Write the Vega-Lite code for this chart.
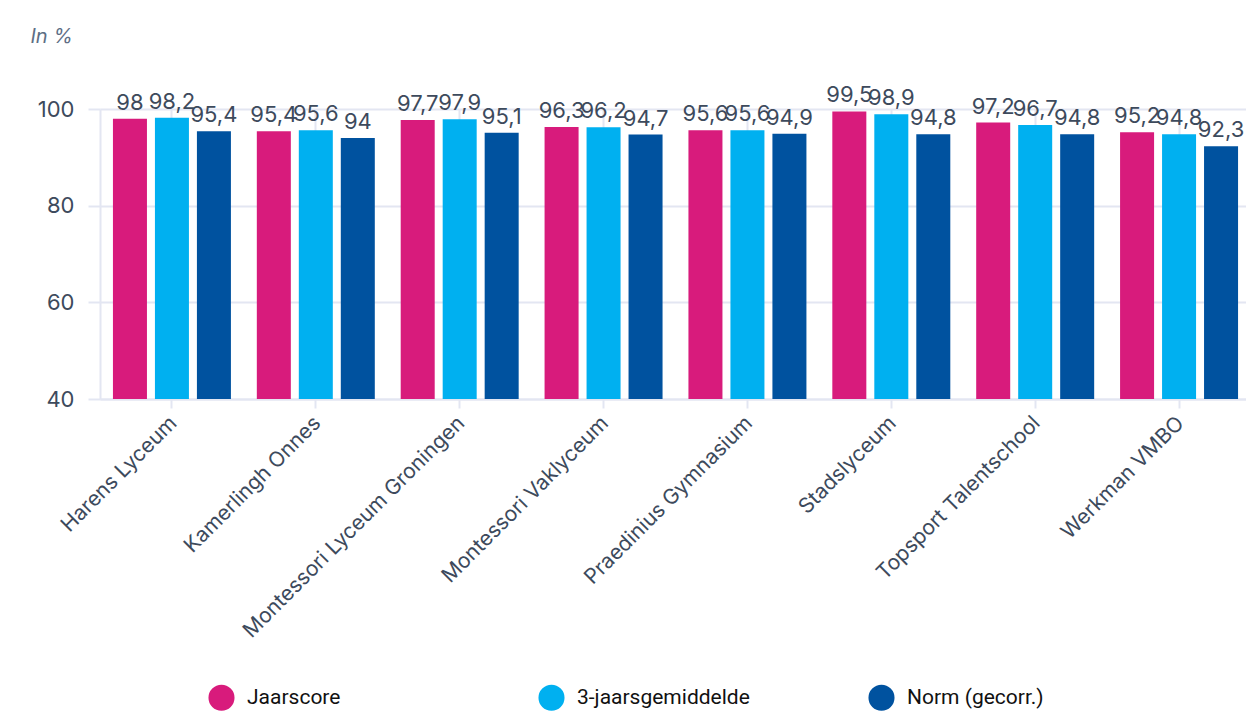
{
  "$schema": "https://vega.github.io/schema/vega-lite/v6.json",
  "width": 1151,
  "height": 290,
  "autosize": {"type": "none"},
  "padding": {"left": 100, "top": 109, "right": 0, "bottom": 316},
  "background": "white",
  "data": {
    "values": [
      {"school": "Harens Lyceum", "serie": "Jaarscore", "waarde": 98},
      {"school": "Harens Lyceum", "serie": "3-jaarsgemiddelde", "waarde": 98.2},
      {"school": "Harens Lyceum", "serie": "Norm (gecorr.)", "waarde": 95.4},
      {"school": "Kamerlingh Onnes", "serie": "Jaarscore", "waarde": 95.4},
      {"school": "Kamerlingh Onnes", "serie": "3-jaarsgemiddelde", "waarde": 95.6},
      {"school": "Kamerlingh Onnes", "serie": "Norm (gecorr.)", "waarde": 94},
      {"school": "Montessori Lyceum Groningen", "serie": "Jaarscore", "waarde": 97.7},
      {"school": "Montessori Lyceum Groningen", "serie": "3-jaarsgemiddelde", "waarde": 97.9},
      {"school": "Montessori Lyceum Groningen", "serie": "Norm (gecorr.)", "waarde": 95.1},
      {"school": "Montessori Vaklyceum", "serie": "Jaarscore", "waarde": 96.3},
      {"school": "Montessori Vaklyceum", "serie": "3-jaarsgemiddelde", "waarde": 96.2},
      {"school": "Montessori Vaklyceum", "serie": "Norm (gecorr.)", "waarde": 94.7},
      {"school": "Praedinius Gymnasium", "serie": "Jaarscore", "waarde": 95.6},
      {"school": "Praedinius Gymnasium", "serie": "3-jaarsgemiddelde", "waarde": 95.6},
      {"school": "Praedinius Gymnasium", "serie": "Norm (gecorr.)", "waarde": 94.9},
      {"school": "Stadslyceum", "serie": "Jaarscore", "waarde": 99.5},
      {"school": "Stadslyceum", "serie": "3-jaarsgemiddelde", "waarde": 98.9},
      {"school": "Stadslyceum", "serie": "Norm (gecorr.)", "waarde": 94.8},
      {"school": "Topsport Talentschool", "serie": "Jaarscore", "waarde": 97.2},
      {"school": "Topsport Talentschool", "serie": "3-jaarsgemiddelde", "waarde": 96.7},
      {"school": "Topsport Talentschool", "serie": "Norm (gecorr.)", "waarde": 94.8},
      {"school": "Werkman VMBO", "serie": "Jaarscore", "waarde": 95.2},
      {"school": "Werkman VMBO", "serie": "3-jaarsgemiddelde", "waarde": 94.8},
      {"school": "Werkman VMBO", "serie": "Norm (gecorr.)", "waarde": 92.3}
    ]
  },
  "encoding": {
    "x": {
      "field": "school", "type": "nominal", "sort": null,
      "scale": {"paddingInner": 0.18, "paddingOuter": 0.09},
      "axis": {
        "title": null, "labelAngle": -45, "labelFontSize": 21, "labelColor": "#3d4a5c",
        "labelFont": "Inter", "labelPadding": 4, "labelOffset": -6, "tickSize": 9, "tickColor": "#e3e6f2",
        "domainColor": "#e3e6f2", "domainWidth": 2, "grid": true, "gridColor": "#e3e6f2", "gridWidth": 2, "tickWidth": 2,
        "labelLimit": 400
      }
    },
    "xOffset": {
      "field": "serie", "type": "nominal", "sort": ["Jaarscore", "3-jaarsgemiddelde", "Norm (gecorr.)"],
      "scale": {"paddingInner": 0.19, "paddingOuter": 0}
    },
    "y": {
      "field": "waarde", "type": "quantitative",
      "scale": {"domain": [40, 100], "nice": false, "zero": false},
      "axis": {
        "values": [40, 60, 80, 100],
        "title": "In %", "titleAngle": 0, "titleX": -70, "titleY": -67, "titleAlign": "left",
        "titleBaseline": "alphabetic", "titleFontStyle": "italic", "titleFontWeight": "normal",
        "titleFont": "Inter", "titleFontSize": 20, "titleColor": "#5d6e85",
        "labelFontSize": 22, "labelColor": "#3d4a5c", "labelFont": "Inter", "labelPadding": 14, "labelAlign": "right",
        "ticks": true, "tickSize": 12, "tickColor": "#e3e6f2", "tickWidth": 2,
        "domain": true, "domainColor": "#e3e6f2", "domainWidth": 2,
        "gridColor": "#e3e6f2", "gridWidth": 2
      }
    }
  },
  "layer": [
    {
      "mark": {"type": "bar", "clip": false},
      "encoding": {
        "y2": {"datum": 40},
        "color": {
          "field": "serie", "type": "nominal",
          "sort": ["Jaarscore", "3-jaarsgemiddelde", "Norm (gecorr.)"],
          "scale": {"domain": ["Jaarscore", "3-jaarsgemiddelde", "Norm (gecorr.)"], "range": ["#d81b7c", "#00b0f0", "#00529f"]},
          "legend": {
            "title": null, "orient": "none", "legendX": 108, "legendY": 575, "direction": "horizontal",
            "symbolType": "circle", "symbolSize": 680, "symbolStrokeWidth": 0, "symbolOpacity": 1,
            "labelFontSize": 21, "labelFont": "Roboto", "labelColor": "#111111", "labelOffset": 12,
            "columnPadding": 118, "gridAlign": "all", "labelLimit": 400
          }
        }
      }
    },
    {
      "mark": {"type": "text", "baseline": "alphabetic", "dy": -9, "fontSize": 22, "font": "Inter", "color": "#3d4a5c"},
      "encoding": {
        "text": {"field": "waarde", "type": "quantitative", "format": ",.1~f"}
      }
    }
  ],
  "config": {
    "view": {"stroke": null},
    "locale": {
      "number": {"decimal": ",", "thousands": ".", "grouping": [3], "currency": ["€", ""]}
    }
  }
}
